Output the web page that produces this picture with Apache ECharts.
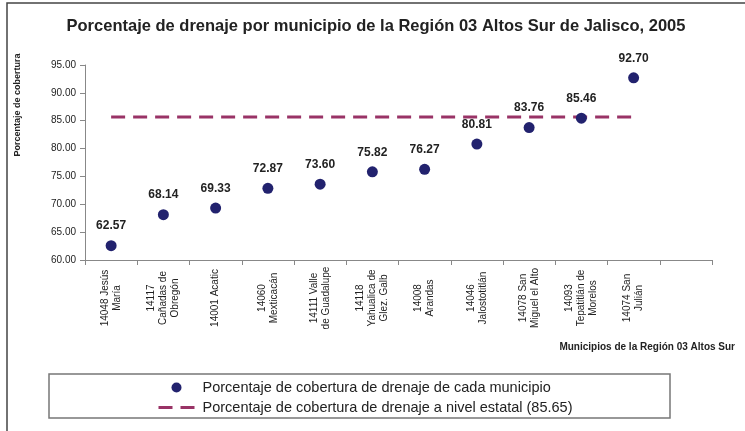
<!DOCTYPE html>
<html>
<head>
<meta charset="utf-8">
<script src="https://cdn.jsdelivr.net/npm/echarts@6/dist/echarts.min.js"></script>
<style>
  html, body { margin: 0; padding: 0; background: #fff; }
  #chart { width: 745px; height: 431px; }
</style>
</head>
<body>
<div id="chart"></div>
<script>
  // municipios (la ultima categoria queda vacia, como en el original)
  const municipios = [
    '14048 Jesús\nMaría',
    '14117\nCañadas de\nObregón',
    '14001 Acatic',
    '14060\nMexticacán',
    '14111 Valle\nde Guadalupe',
    '14118\nYahualica de\nGlez. Galb',
    '14008\nArandas',
    '14046\nJalostotitlán',
    '14078 San\nMiguel el Alto',
    '14093\nTepatitlán de\nMorelos',
    '14074 San\nJulián',
    ''
  ]
  const cobertura = [62.57, 68.14, 69.33, 72.87, 73.60, 75.82, 76.27, 80.81, 83.76, 85.46, 92.70, '-']
  const estatal = [85.65, 85.65, 85.65, 85.65, 85.65, 85.65, 85.65, 85.65, 85.65, 85.65, 85.65, '-']
  const yTicks = [60, 65, 70, 75, 80, 85, 90, 95]

  const font = 'Liberation Sans, Arial, sans-serif'
  const chart = echarts.init(document.getElementById('chart'))

  const option = {
    animation: false,
    textStyle: { fontFamily: font },
    title: {
      text: 'Porcentaje de drenaje por municipio de la Región 03 Altos Sur de Jalisco, 2005',
      left: 371, top: 13, textAlign: 'center',
      textStyle: { fontSize: 16.5, fontWeight: 'bold', color: '#222', fontFamily: font }
    },
    grid: { left: 85, right: 33, top: 65, bottom: 171 },
    legend: {
      orient: 'vertical', left: 157, top: 380, padding: 0,
      itemWidth: 36, itemHeight: 10, itemGap: 5,
      textStyle: { fontSize: 14.5, color: '#222', fontFamily: font, padding: [0, 0, 0, 3] },
      data: [
        { name: 'Porcentaje de cobertura de drenaje de cada municipio', icon: 'circle' },
        {
          name: 'Porcentaje de cobertura de drenaje a nivel estatal (85.65)',
          itemStyle: { opacity: 0 },
          lineStyle: { type: [14, 8], width: 3, color: '#993366' }
        }
      ]
    },
    xAxis: {
      type: 'category', data: municipios, boundaryGap: true,
      axisLine: { lineStyle: { color: '#888', width: 1 } },
      axisTick: { show: true, inside: false, length: 5, lineStyle: { color: '#888' } },
      axisLabel: {
        interval: 0, rotate: 90, align: 'center', verticalAlign: 'middle',
        margin: 38, fontSize: 10, lineHeight: 12, color: '#222', fontFamily: font
      }
    },
    yAxis: {
      type: 'value', min: yTicks[0], max: yTicks[yTicks.length - 1], interval: 5,
      splitLine: { show: false },
      axisLine: { show: true, lineStyle: { color: '#888', width: 1 } },
      axisTick: { show: true, length: 5, lineStyle: { color: '#888' } },
      axisLabel: {
        fontSize: 10, color: '#222', margin: 9, fontFamily: font,
        formatter: v => v.toFixed(2)
      }
    },
    series: [
      {
        name: 'Porcentaje de cobertura de drenaje a nivel estatal (85.65)',
        type: 'line', data: estatal, symbol: 'none', silent: true,
        lineStyle: { color: '#993366', width: 3, type: [14, 8] },
        itemStyle: { color: '#993366' },
        z: 1
      },
      {
        name: 'Porcentaje de cobertura de drenaje de cada municipio',
        type: 'scatter', data: cobertura, symbolSize: 11,
        itemStyle: { color: '#22226E', opacity: 1 },
        label: {
          show: true, position: 'top', distance: 8,
          fontSize: 12, fontWeight: 'bold', color: '#222', fontFamily: font,
          formatter: p => p.value.toFixed(2)
        },
        z: 3
      }
    ],
    graphic: [
      { type: 'rect', x: 7, y: 3, shape: { width: 800, height: 500 },
        style: { fill: 'none', stroke: '#444', lineWidth: 1.5 }, silent: true, z: -10 },
      { type: 'rect', x: 49, y: 374, shape: { width: 621, height: 44 },
        style: { fill: 'none', stroke: '#777', lineWidth: 1.5 }, silent: true },
      { type: 'text', x: 18, y: 105, rotation: Math.PI / 2,
        style: { text: 'Porcentaje de cobertura', fontSize: 9, fontWeight: 'bold', fill: '#222',
          fontFamily: font, align: 'center', verticalAlign: 'middle' } },
      { type: 'text', x: 735, y: 347,
        style: { text: 'Municipios de la Región 03 Altos Sur', fontSize: 10, fontWeight: 'bold', fill: '#222',
          fontFamily: font, align: 'right', verticalAlign: 'middle' } }
    ]
  }

  chart.setOption(option)
</script>
</body>
</html>
